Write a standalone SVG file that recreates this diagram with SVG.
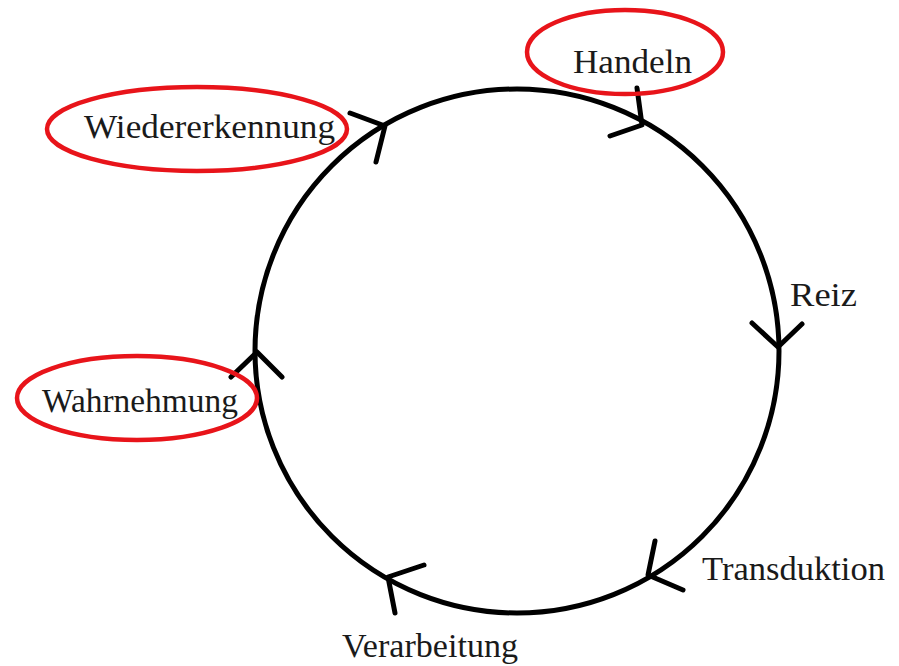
<svg xmlns="http://www.w3.org/2000/svg" width="899" height="666" viewBox="0 0 899 666">
<style>
.lbl{font-family:"Liberation Serif","Times New Roman",serif;font-size:33px;fill:#1a1a1a}
.ring{fill:none;stroke:#000;stroke-width:5}
.arr{fill:none;stroke:#000;stroke-width:5;stroke-linecap:round;stroke-linejoin:round}
.hl{fill:none;stroke:#e8141a;stroke-width:4.5}
</style>
<rect width="899" height="666" fill="#fff"/>
<g id="connectors">
<circle class="ring" cx="517" cy="351" r="262"/>
<polyline class="arr" points="350,113 385,126 376,162"/>
<polyline class="arr" points="637,88 642,125 610,136"/>
<polyline class="arr" points="752,323 778,347 802,324"/>
<polyline class="arr" points="655,541 648,575 683,590"/>
<polyline class="arr" points="424,565 388,577 395,613"/>
<polyline class="arr" points="231,377 257,352 282,377"/>
</g>
<g id="handeln">
<ellipse class="hl" cx="625" cy="52" rx="98" ry="42"/>
<text class="lbl" x="573" y="73" textLength="119" lengthAdjust="spacingAndGlyphs">Handeln</text>
</g>
<g id="wiedererkennung">
<ellipse class="hl" cx="197" cy="129" rx="150" ry="42"/>
<text class="lbl" x="84" y="138" textLength="251" lengthAdjust="spacingAndGlyphs">Wiedererkennung</text>
</g>
<g id="reiz">
<text class="lbl" x="790" y="306" textLength="67" lengthAdjust="spacingAndGlyphs">Reiz</text>
</g>
<g id="transduktion">
<text class="lbl" x="702" y="580" textLength="183" lengthAdjust="spacingAndGlyphs">Transduktion</text>
</g>
<g id="verarbeitung">
<text class="lbl" x="342" y="657" textLength="176" lengthAdjust="spacingAndGlyphs">Verarbeitung</text>
</g>
<g id="wahrnehmung">
<ellipse class="hl" cx="137" cy="398" rx="120" ry="42"/>
<text class="lbl" x="42" y="412" textLength="196" lengthAdjust="spacingAndGlyphs">Wahrnehmung</text>
</g>
</svg>
